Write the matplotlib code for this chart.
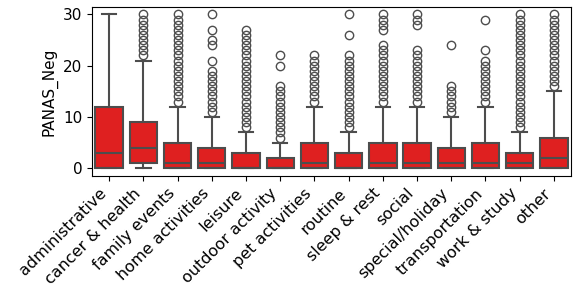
import matplotlib
matplotlib.use("Agg")
import matplotlib.pyplot as plt
import colorsys

categories = ["administrative", "cancer & health", "family events", "home activities",
              "leisure", "outdoor activity", "pet activities", "routine", "sleep & rest",
              "social", "special/holiday", "transportation", "work & study", "other"]

q1 = [0, 1, 0, 0, 0, 0, 0, 0, 0, 0, 0, 0, 0, 0]
med = [3, 4, 1, 1, 0, 0, 1, 0, 1, 1, 1, 1, 1, 2]
q3 = [12, 9, 5, 4, 3, 2, 5, 3, 5, 5, 4, 5, 3, 6]
whislo = [0, 0, 0, 0, 0, 0, 0, 0, 0, 0, 0, 0, 0, 0]
whishi = [30, 21, 12, 10, 7, 5, 12, 7, 12, 12, 10, 12, 7, 15]

fliers = [
    [],
    list(range(22, 31)),
    list(range(13, 31)),
    list(range(11, 20)) + [21, 24, 25, 27, 30],
    list(range(8, 28)),
    list(range(6, 17)) + [20, 22],
    list(range(13, 23)),
    list(range(8, 23)) + [26, 30],
    list(range(13, 25)) + [27, 28, 29, 30],
    list(range(13, 24)) + [28, 29, 30],
    list(range(11, 17)) + [24],
    list(range(13, 22)) + [23, 29],
    list(range(8, 31)),
    list(range(16, 31)),
]

ylabel = "PANAS_Neg"

# seaborn-like colors
h, l, s = colorsys.rgb_to_hls(1, 0, 0)
fill = colorsys.hls_to_rgb(h, l, s * 0.75)
lc = (0.3, 0.3, 0.3)

stats = []
for i, c in enumerate(categories):
    stats.append(dict(label=c, q1=q1[i], med=med[i], q3=q3[i],
                      whislo=whislo[i], whishi=whishi[i], fliers=fliers[i]))

fig = plt.figure(figsize=(5.73, 2.97), dpi=100)
ax = fig.add_axes([0.1606, 0.4074, 0.9965 - 0.1606, 0.9774 - 0.4074])

lw = 1.5
ax.bxp(stats, positions=range(len(categories)), widths=0.8, patch_artist=True,
       capwidths=0.42,
       boxprops=dict(facecolor=fill, edgecolor=lc, linewidth=lw),
       medianprops=dict(color=lc, linewidth=lw),
       whiskerprops=dict(color=lc, linewidth=lw),
       capprops=dict(color=lc, linewidth=lw),
       flierprops=dict(marker="o", markerfacecolor="none", markeredgecolor=lc,
                       markersize=6, markeredgewidth=1.0))

ax.set_xlim(-0.5, len(categories) - 0.5)
ax.set_ylim(-1.5, 31.5)
ax.set_yticks([0, 10, 20, 30])
ax.set_xticks(range(len(categories)))
ax.set_xticklabels(categories, rotation=45, ha="right", fontsize=11.5)
ax.tick_params(axis="y", labelsize=11)
ax.set_ylabel(ylabel, fontsize=11)

fig.savefig("out.png", dpi=100)
